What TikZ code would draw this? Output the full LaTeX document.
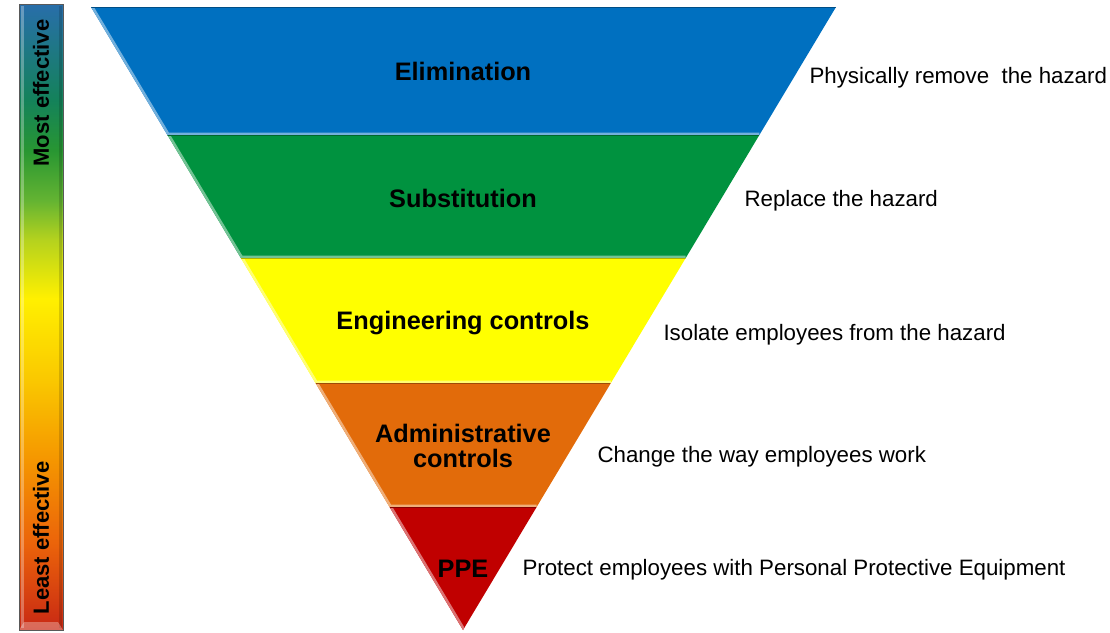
\documentclass[tikz,border=0pt]{standalone}
\usepackage{fontspec}
\setmainfont{Liberation Sans}

\definecolor{elimblue}{RGB}{0,112,192}
\definecolor{substgreen}{RGB}{0,146,63}
\definecolor{enggyellow}{RGB}{255,255,0}
\definecolor{adminorange}{RGB}{226,107,10}
\definecolor{pperred}{RGB}{192,0,0}

% stops of the colour bar
\definecolor{barA}{RGB}{200,40,20}
\definecolor{barB}{RGB}{235,100,10}
\definecolor{barC}{RGB}{245,150,0}
\definecolor{barD}{RGB}{250,200,0}
\definecolor{barE}{RGB}{255,240,0}
\definecolor{barF}{RGB}{180,210,30}
\definecolor{barG}{RGB}{100,180,50}
\definecolor{barH}{RGB}{40,150,50}
\definecolor{barI}{RGB}{20,130,90}
\definecolor{barJ}{RGB}{40,110,170}

% colour bar, red at the bottom to blue at the top
\pgfdeclareverticalshading{effbar}{100bp}{
	color(0bp)=(barA);
	color(25bp)=(barA);
	color(32bp)=(barB);
	color(38.6bp)=(barC);
	color(45bp)=(barD);
	color(51.5bp)=(barE);
	color(56.2bp)=(barF);
	color(59.3bp)=(barG);
	color(63.3bp)=(barH);
	color(67.3bp)=(barI);
	color(75bp)=(barJ);
	color(100bp)=(barJ)
}

\tikzset{
	bandlabel/.style={font=\bfseries\fontsize{25.3}{28}\selectfont, align=center, text=black},
	note/.style={anchor=west, font=\fontsize{22.3}{25}\selectfont, text=black},
	barlabel/.style={rotate=90, font=\bfseries\fontsize{22}{24}\selectfont, text=black}
}

\begin{document}
\begin{tikzpicture}[x=1pt, y=-1pt]
	\useasboundingbox (0,0) rectangle (1110,632);

	% band borders, top to bottom
	\def\levels{{7, 135, 258, 383, 507, 630}}

	% \xleft#y / \xright#y : edges of the funnel
	\def\xleft#1{91 + (#1 - 7) / 623 * 372}
	\def\xright#1{836 - (#1 - 7) / 623 * 373}

	% bands, lit on the left and bottom edge
	\foreach \k/\col in {0/elimblue, 1/substgreen, 2/enggyellow, 3/adminorange, 4/pperred} {
		\pgfmathsetmacro\ytop{\levels[\k]}
		\pgfmathsetmacro\ybot{\levels[\k + 1]}
		\pgfmathsetmacro\xa{\xleft{\ytop}}
		\pgfmathsetmacro\xb{\xright{\ytop}}
		\pgfmathsetmacro\xc{\xright{\ybot}}
		\pgfmathsetmacro\xd{\xleft{\ybot}}
		\fill[\col] (\xa, \ytop) -- (\xb, \ytop) -- (\xc, \ybot) -- (\xd, \ybot) -- cycle;
		\begin{scope}
			\clip (\xa, \ytop) -- (\xb, \ytop) -- (\xc, \ybot) -- (\xd, \ybot) -- cycle;
			\draw[\col!55!white, line width=5pt] (\xa, \ytop) -- (\xd, \ybot) -- (\xc, \ybot);
			\draw[\col!70!black, line width=1.5pt] (\xa, \ytop) -- (\xb, \ytop);
		\end{scope}
	}

	% labels inside
	\node[bandlabel] (elim) at (463, 71) {Elimination};
	\node[bandlabel] (subst) at (463, 198) {Substitution};
	\node[bandlabel] (engg) at (463, 323) {Engineering controls};
	\node[bandlabel] (admin) at (463, 446) {Administrative\\[-3pt]controls};
	\node[bandlabel] (ppe) at (463, 569) {PPE};

	% notes on the right
	\node[note] (elimnote) at (806, 78) {Physically remove\ \ the hazard};
	\node[note] (substnote) at (741, 201) {Replace the hazard};
	\node[note] (enggnote) at (660, 335) {Isolate employees from the hazard};
	\node[note] (adminnote) at (594, 457) {Change the way employees work};
	\node[note] (ppenote) at (519, 570) {Protect employees with Personal Protective Equipment};

	% effectiveness bar
	\shade[shading=effbar] (19, 4) rectangle (63, 630);
	\draw[white, opacity=.3, line width=3pt] (22, 6) -- (22, 628);
	\draw[black, opacity=.15, line width=3pt] (60, 6) -- (60, 628);
	\fill[white, opacity=.3] (19, 630) -- (24, 622) -- (58, 622) -- (63, 630) -- cycle;
	\draw[black!65, line width=1pt] (19, 4) rectangle (63, 630);
	\node[barlabel] (most) at (41, 93) {Most effective};
	\node[barlabel] (least) at (41, 538) {Least effective};
\end{tikzpicture}
\end{document}
